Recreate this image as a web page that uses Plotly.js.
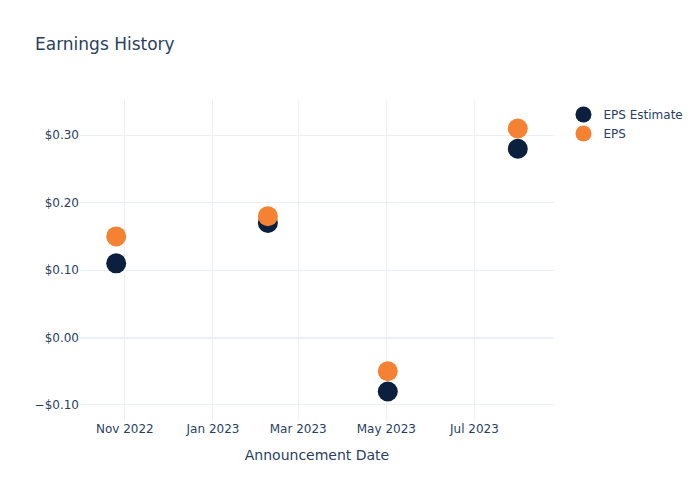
<!DOCTYPE html>
<html>
<head>
<meta charset="utf-8">
<script src="https://cdn.plot.ly/plotly-3.0.1.min.js"></script>
<style>html,body{margin:0;padding:0;}#chart{width:700px;height:500px;}</style>
</head>
<body>
<div id="chart"></div>
<script>
const dates = ["2022-10-26", "2023-02-08", "2023-05-02", "2023-07-31"];
const epsEstimate = [0.11, 0.17, -0.08, 0.28];
const eps = [0.15, 0.18, -0.05, 0.31];

const traces = [
  {x: dates, y: epsEstimate, name: "EPS Estimate", type: "scatter", mode: "markers",
   marker: {color: "#0b1f3f", size: 20}},
  {x: dates, y: eps, name: "EPS", type: "scatter", mode: "markers",
   marker: {color: "#f58233", size: 20}}
];
const layout = {
  width: 700, height: 500,
  font: {family: "DejaVu Sans, Verdana, sans-serif", color: "#2a3f5f", size: 12},
  paper_bgcolor: "white", plot_bgcolor: "white",
  title: {text: "Earnings History", x: 0.05, font: {size: 17}},
  xaxis: {title: {text: "Announcement Date", standoff: 15}, type: "date", dtick: "M2", tickformat: "%b %Y",
          gridcolor: "#EBF0F8", showline: false, zeroline: false, automargin: true},
  yaxis: {tickformat: "$.2f", gridcolor: "#EBF0F8", showline: false, zerolinecolor: "#EBF0F8", zerolinewidth: 2, automargin: true},
  legend: {font: {size: 12}}
};
Plotly.newPlot("chart", traces, layout, {displayModeBar: false});
</script>
</body>
</html>
